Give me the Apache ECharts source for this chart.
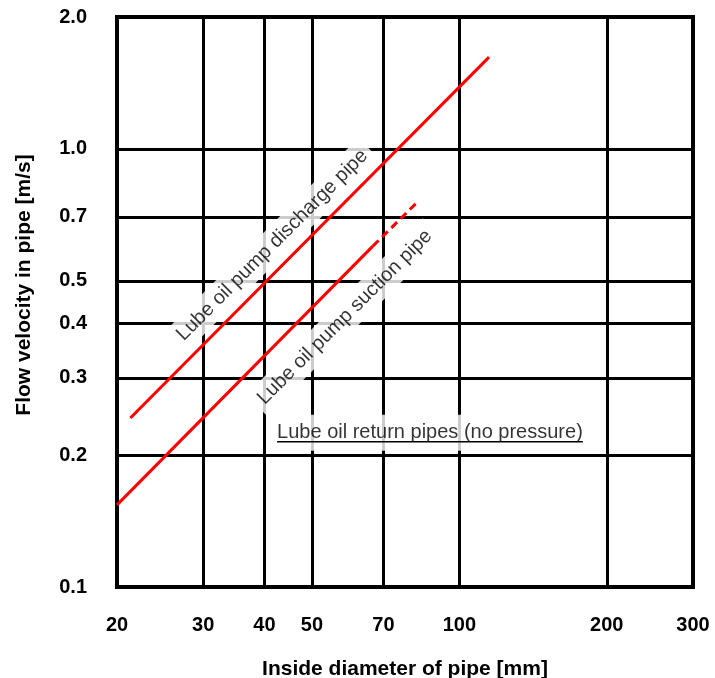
<!DOCTYPE html>
<html>
<head>
<meta charset="utf-8">
<script src="https://cdn.jsdelivr.net/npm/echarts@6/dist/echarts.min.js"></script>
<style>
html,body{margin:0;padding:0;background:#fff;}
#chart{width:715px;height:678px;}
</style>
</head>
<body>
<div id="chart"></div>
<script>
// Axis tick values
const xTicks = [20, 30, 40, 50, 70, 100, 200, 300];
const yTicks = [0.1, 0.2, 0.3, 0.4, 0.5, 0.7, 1.0, 2.0];

// Lube oil pump discharge pipe (solid): end points
const dischargeD = [21.3, 115];
const dischargeV = [0.243, 1.62];

// Lube oil pump suction pipe (solid part)
const suctionD = [20, 66.6];
const suctionV = [0.154, 0.60];

// Lube oil pump suction pipe (dashed extension)
const suctionDashD = [66.6, 82.6];
const suctionDashV = [0.60, 0.761];

// Annotations (text and anchor in data units)
const noteText = ['Lube oil pump discharge pipe', 'Lube oil pump suction pipe', 'Lube oil return pipes (no pressure)'];
const noteD = [41.5, 58.4, 87.1];
const noteV = [0.603, 0.413, 0.225];

const FONT = '"Liberation Sans", Arial, Helvetica, sans-serif';
const noteRot = [45, 45, 0];

function pairs(xs, ys) { return xs.map((x, i) => [x, ys[i]]); }

const chart = echarts.init(document.getElementById('chart'), null, {renderer: 'canvas'});

const option = {
  animation: false,
  backgroundColor: '#ffffff',
  grid: {
    left: 117, right: 22, top: 17, bottom: 91,
    outerBoundsMode: 'none', containLabel: false,
    show: true, borderColor: '#000', borderWidth: 4, backgroundColor: 'transparent'
  },
  xAxis: {
    type: 'log', logBase: 10, min: 20, max: 300,
    name: 'Inside diameter of pipe [mm]',
    nameLocation: 'middle', nameGap: 72,
    nameTextStyle: {fontFamily: FONT, fontWeight: 'bold', fontSize: 21, color: '#000'},
    axisLine: {show: true, lineStyle: {color: '#000', width: 4}},
    axisTick: {show: false, customValues: xTicks},
    axisLabel: {
      customValues: xTicks, margin: 28,
      fontFamily: FONT, fontWeight: 'bold', fontSize: 20, color: '#000',
      formatter: v => String(Math.round(v))
    },
    splitLine: {show: true, lineStyle: {color: '#000', width: 3}},
    minorSplitLine: {show: false}
  },
  yAxis: {
    type: 'log', logBase: 10, min: 0.1, max: 2.0,
    name: 'Flow velocity in pipe [m/s]',
    nameLocation: 'middle', nameGap: 82, nameRotate: 90,
    nameTextStyle: {fontFamily: FONT, fontWeight: 'bold', fontSize: 21, color: '#000', padding: [0, 0, 0, 34]},
    axisLine: {show: true, lineStyle: {color: '#000', width: 4}},
    axisTick: {show: false, customValues: yTicks},
    axisLabel: {
      customValues: yTicks, margin: 30,
      fontFamily: FONT, fontWeight: 'bold', fontSize: 20, color: '#000',
      formatter: v => Number(v).toFixed(1)
    },
    splitLine: {show: true, lineStyle: {color: '#000', width: 3}}
  },
  series: [
    {
      type: 'scatter',
      symbolSize: 0,
      z: 2,
      data: noteText.map((t, i) => ({
        value: [noteD[i], noteV[i]],
        label: {
          show: true, position: 'inside', formatter: t, rotate: noteRot[i],
          fontFamily: FONT, fontSize: 20, color: '#000',
          backgroundColor: '#fff', padding: i === 2 ? [8, 6] : [5, 6]
        }
      })),
      silent: true
    },
    {
      type: 'line', name: 'discharge', z: 3,
      data: pairs(dischargeD, dischargeV),
      showSymbol: false, symbol: 'none',
      lineStyle: {color: '#ff0000', width: 3}
    },
    {
      type: 'line', name: 'suction', z: 3,
      data: pairs(suctionD, suctionV),
      showSymbol: false, symbol: 'none',
      lineStyle: {color: '#ff0000', width: 3}
    },
    {
      type: 'line', name: 'suction-dash', z: 3,
      data: pairs(suctionDashD, suctionDashV),
      showSymbol: false, symbol: 'none',
      lineStyle: {color: '#ff0000', width: 3, type: [8, 5]}
    }
  ]
};
chart.setOption(option);

// Underline for the return-pipe note
(function () {
  const p = chart.convertToPixel({gridIndex: 0}, [noteD[2], noteV[2]]);
  const c = document.createElement('canvas').getContext('2d');
  c.font = '20px "Liberation Sans", Arial, sans-serif';
  const w = c.measureText(noteText[2]).width;
  chart.setOption({
    graphic: [{
      type: 'line', silent: true, z: 10,
      shape: {x1: p[0] - w / 2, y1: p[1] + 9, x2: p[0] + w / 2, y2: p[1] + 9},
      style: {stroke: '#000', lineWidth: 1.5}
    }]
  });
})();
</script>
</body>
</html>
